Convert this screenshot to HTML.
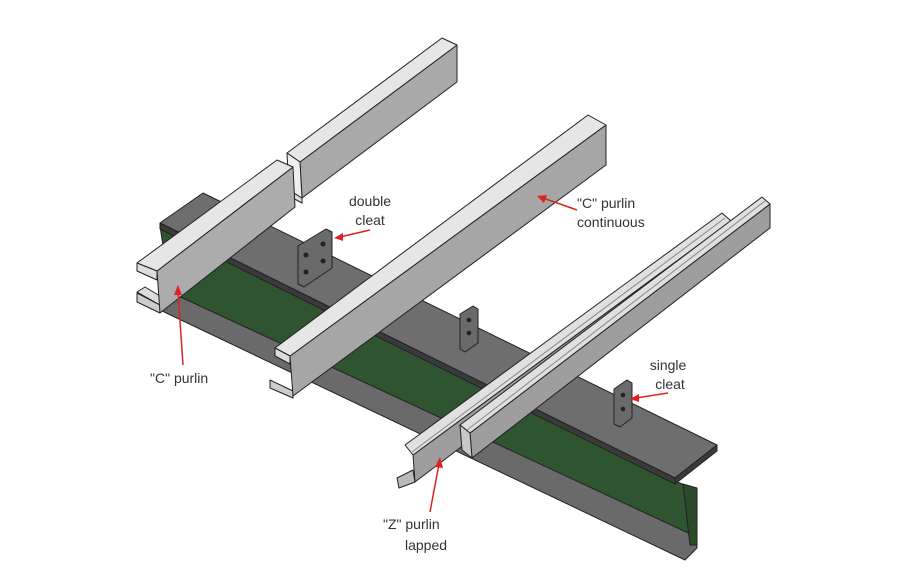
<!DOCTYPE html>
<html><head><meta charset="utf-8"><style>
html,body{margin:0;padding:0;background:#fff;}
svg{display:block}
text{font-family:"Liberation Sans",sans-serif;font-size:14px;fill:#333;}
</style></head><body>
<svg width="900" height="584" viewBox="0 0 900 584" xmlns="http://www.w3.org/2000/svg">
<rect width="900" height="584" fill="#fff"/>
<g stroke="#222" stroke-width="1" stroke-linejoin="round">
<!-- beam bottom flange -->
<polygon points="150,300 170,292 697,535 697,548 685,560 160,310" fill="#6a6a6a"/>
<!-- web green -->
<polygon points="160,226 675,481 697,490 697,537 170,292" fill="#2f5530"/>
<polygon points="683,484 697,488 697,545 690,545" fill="#2a4a2a"/>
<!-- top flange -->
<polygon points="203,193 717,445 675,478 160,223" fill="#6e6e6e"/>
<polygon points="160,223 675,478 675,484 160,229" fill="#3a3a3a"/>
<polygon points="717,445 717,451 675,484 675,478" fill="#3a3a3a"/>
<!-- cleats -->
<polygon points="298,246 326,229 332,232 332,268 304,287 298,284" fill="#6a6a6a"/>
<g fill="#222" stroke="none"><circle cx="306" cy="255" r="2.5"/><circle cx="323" cy="244" r="2.5"/><circle cx="306" cy="272" r="2.5"/><circle cx="323" cy="261" r="2.5"/></g>
<polygon points="460,314 473,306 478,309 478,343 465,352 460,349" fill="#6a6a6a"/>
<g fill="#222" stroke="none"><circle cx="469" cy="320" r="2.3"/><circle cx="469" cy="333" r="2.3"/></g>
<polygon points="614,389 627,380 632,383 632,418 620,427 614,424" fill="#6a6a6a"/>
<g fill="#222" stroke="none"><circle cx="623" cy="395" r="2.3"/><circle cx="623" cy="409" r="2.3"/></g>
<!-- C purlin 1 far piece -->
<polygon points="289,190 302,198 302,203 289,196" fill="#ddd"/>
<polygon points="300,162 457,45 457,82 302,198" fill="#a9a9a9"/>
<polygon points="287,153 442,38 457,45 300,162" fill="#e6e6e6"/>
<polygon points="287,153 300,162 302,198 289,190" fill="#eee"/>
<!-- C purlin 1 near piece -->
<polygon points="137,293 160,305 160,313 137,302" fill="#ccc"/>
<polygon points="137,292 145,287 160,296 160,305" fill="#ddd"/>
<polygon points="157,271 293,167 295,207 160,313" fill="#acacac"/>
<polygon points="137,263 277,160 293,167 157,271" fill="#e6e6e6"/>
<polygon points="137,263 157,271 157,280 137,271" fill="#ddd"/>
<!-- C purlin 2 -->
<polygon points="270,380 293,391 293,398 270,388" fill="#ccc"/>
<polygon points="290,356 606,125 606,165 293,396" fill="#a6a6a6"/>
<polygon points="275,348 588,115 606,125 290,356" fill="#e6e6e6"/>
<polygon points="275,348 290,356 290,364 275,356" fill="#ddd"/>
<!-- Z purlin A -->
<polygon points="397,478 413,470 415,482 399,488" fill="#bbb"/>
<polygon points="413,455 731,221 731,242 415,482" fill="#9e9e9e"/>
<polygon points="405,445 722,213 731,221 413,455" fill="#e0e0e0"/>
<polyline points="412,452 725,218" fill="none" stroke="#888"/>
<!-- Z purlin B -->
<polygon points="470,433 770,204 770,228 472,458" fill="#9e9e9e"/>
<polygon points="460,425 762,197 770,204 470,433" fill="#e0e0e0"/>
<polyline points="467,430 765,201" fill="none" stroke="#888"/>
<polygon points="460,425 470,433 472,458 462,450" fill="#c8c8c8"/>
</g>
<!-- arrows -->
<g stroke="#d22" stroke-width="1.5" fill="#d22">
<line x1="370" y1="230" x2="340" y2="237"/><polygon points="334,238 343,233 343,241" stroke="none"/>
<line x1="183" y1="365" x2="178" y2="292"/><polygon points="178,285 174,295 182,295" stroke="none"/>
<line x1="577" y1="210" x2="543" y2="198"/><polygon points="537,196 547,195 544,203" stroke="none"/>
<line x1="668" y1="393" x2="636" y2="398"/><polygon points="630,399 639,394 639,402" stroke="none"/>
<line x1="430" y1="512" x2="439" y2="464"/><polygon points="440,457 435,467 443,468" stroke="none"/>
</g>
<g>
<text x="370" y="206" text-anchor="middle">double</text>
<text x="370" y="225" text-anchor="middle">cleat</text>
<text x="150" y="383">"C" purlin</text>
<text x="577" y="208">"C" purlin</text>
<text x="577" y="227">continuous</text>
<text x="668" y="370" text-anchor="middle">single</text>
<text x="670" y="389" text-anchor="middle">cleat</text>
<text x="383" y="529">"Z" purlin</text>
<text x="405" y="550">lapped</text>
</g>
</svg>
</body></html>
